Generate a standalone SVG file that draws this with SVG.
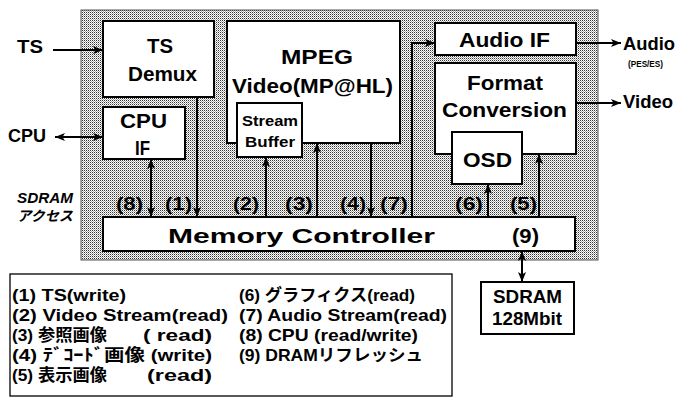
<svg xmlns="http://www.w3.org/2000/svg" width="677" height="407" viewBox="0 0 677 407">
<defs>
<pattern id="dots" width="2" height="2" patternUnits="userSpaceOnUse">
<rect width="2" height="2" fill="#fff"/>
<rect x="0" y="0" width="1" height="1" fill="#333"/>
<rect x="1" y="1" width="1" height="1" fill="#aaa"/>
</pattern>
<marker id="ah" markerUnits="userSpaceOnUse" markerWidth="11" markerHeight="8" refX="10" refY="4" orient="auto-start-reverse">
<path d="M0,0 L10,4 L0,8 L2.5,4 z" fill="#000"/>
</marker>
<style>
.box{fill:#fff;stroke:#000;stroke-width:2}
.ln{fill:none;stroke:#000;stroke-width:2}
.t{font-family:"Liberation Sans",Arial,sans-serif;font-weight:bold;fill:#000}
.b{font-size:21px}
.m{font-size:18px}
.s{font-size:15px}
.lg{font-family:"Liberation Sans","Noto Sans CJK JP",sans-serif;font-weight:bold;font-size:16.5px;fill:#000}
.it{font-family:"Liberation Sans","Noto Sans CJK JP",sans-serif;font-style:italic;font-weight:bold;font-size:14px;fill:#000}
</style>
</defs>

<rect id="chip" x="81" y="10" width="517" height="250" fill="url(#dots)" stroke="#555" stroke-width="1"/>

<g id="ts-demux">
<rect class="box" x="103" y="21" width="111" height="76"/>
<text class="t b" x="147" y="53" textLength="26" lengthAdjust="spacingAndGlyphs">TS</text>
<text class="t b" x="128" y="81" textLength="69" lengthAdjust="spacingAndGlyphs">Demux</text>
</g>

<g id="cpu-if">
<rect class="box" x="103" y="107" width="82" height="52"/>
<text class="t b" x="120" y="128" textLength="47" lengthAdjust="spacingAndGlyphs">CPU</text>
<text class="t b" x="135" y="155" textLength="15" lengthAdjust="spacingAndGlyphs">IF</text>
</g>

<g id="mpeg">
<rect class="box" x="227" y="21" width="173" height="122"/>
<text class="t b" x="281" y="64" textLength="72" lengthAdjust="spacingAndGlyphs">MPEG</text>
<text class="t b" x="232" y="93" textLength="161" lengthAdjust="spacingAndGlyphs">Video(MP@HL)</text>
</g>

<g id="stream-buffer">
<rect class="box" x="237" y="103" width="65" height="54"/>
<text class="t s" x="242" y="126" textLength="56" lengthAdjust="spacingAndGlyphs">Stream</text>
<text class="t s" x="245" y="147" textLength="50" lengthAdjust="spacingAndGlyphs">Buffer</text>
</g>

<g id="audio-if">
<rect class="box" x="435" y="23" width="141" height="32"/>
<text class="t b" x="459" y="47" textLength="91" lengthAdjust="spacingAndGlyphs">Audio IF</text>
</g>

<g id="format-conversion">
<rect class="box" x="435" y="63" width="141" height="91"/>
<text class="t b" x="467" y="90" textLength="76" lengthAdjust="spacingAndGlyphs">Format</text>
<text class="t b" x="442" y="117" textLength="125" lengthAdjust="spacingAndGlyphs">Conversion</text>
</g>

<g id="osd">
<rect class="box" x="452" y="132" width="70" height="52"/>
<text class="t b" x="463" y="167" textLength="49" lengthAdjust="spacingAndGlyphs">OSD</text>
</g>

<g id="memory-controller">
<rect class="box" x="103" y="217" width="472" height="34"/>
<text class="t b" x="168" y="243" textLength="267" lengthAdjust="spacingAndGlyphs">Memory Controller</text>
<text class="t b" x="512" y="243" textLength="27" lengthAdjust="spacingAndGlyphs">(9)</text>
</g>

<g id="sdram">
<rect class="box" x="481" y="282" width="93" height="52" stroke-width="1.5"/>
<text class="t m" x="493" y="303" textLength="69" lengthAdjust="spacingAndGlyphs">SDRAM</text>
<text class="t m" x="492" y="325" textLength="70" lengthAdjust="spacingAndGlyphs">128Mbit</text>
</g>

<g id="io-labels">
<text class="t m" x="17" y="53" textLength="26" lengthAdjust="spacingAndGlyphs">TS</text>
<text class="t m" x="8" y="142" textLength="38" lengthAdjust="spacingAndGlyphs">CPU</text>
<text class="t m" x="623" y="50" textLength="52" lengthAdjust="spacingAndGlyphs">Audio</text>
<text class="t" font-size="8.5" x="628" y="67" textLength="35" lengthAdjust="spacingAndGlyphs">(PES/ES)</text>
<text class="t m" x="623" y="108" textLength="50" lengthAdjust="spacingAndGlyphs">Video</text>
<text class="it" x="17" y="203" textLength="56" lengthAdjust="spacingAndGlyphs">SDRAM</text>
<text class="it" x="17" y="221" textLength="56" lengthAdjust="spacingAndGlyphs">アクセス</text>
</g>

<g id="connectors">
<line class="ln" x1="53" y1="50" x2="103" y2="50" marker-end="url(#ah)"/>
<line class="ln" x1="55" y1="137" x2="103" y2="137" marker-start="url(#ah)" marker-end="url(#ah)"/>
<line class="ln" x1="576" y1="43" x2="621" y2="43" marker-end="url(#ah)"/>
<line class="ln" x1="576" y1="103" x2="621" y2="103" marker-end="url(#ah)"/>
<line class="ln" x1="151" y1="159" x2="151" y2="217" marker-start="url(#ah)" marker-end="url(#ah)"/>
<line class="ln" x1="197" y1="97" x2="197" y2="217" marker-end="url(#ah)"/>
<line class="ln" x1="266" y1="217" x2="266" y2="157" marker-end="url(#ah)"/>
<line class="ln" x1="317" y1="217" x2="317" y2="143" marker-end="url(#ah)"/>
<line class="ln" x1="371" y1="143" x2="371" y2="217" marker-end="url(#ah)"/>
<polyline class="ln" points="412,217 412,43 435,43" marker-end="url(#ah)"/>
<line class="ln" x1="488" y1="217" x2="488" y2="184" marker-end="url(#ah)"/>
<line class="ln" x1="539" y1="217" x2="539" y2="154" marker-end="url(#ah)"/>
<line class="ln" x1="522" y1="251" x2="522" y2="282" marker-start="url(#ah)" marker-end="url(#ah)"/>
</g>

<g id="access-labels">
<text class="t m" x="116" y="210" textLength="27" lengthAdjust="spacingAndGlyphs">(8)</text>
<text class="t m" x="165" y="210" textLength="27" lengthAdjust="spacingAndGlyphs">(1)</text>
<text class="t m" x="233" y="210" textLength="26" lengthAdjust="spacingAndGlyphs">(2)</text>
<text class="t m" x="285" y="210" textLength="28" lengthAdjust="spacingAndGlyphs">(3)</text>
<text class="t m" x="340" y="210" textLength="26" lengthAdjust="spacingAndGlyphs">(4)</text>
<text class="t m" x="380" y="210" textLength="28" lengthAdjust="spacingAndGlyphs">(7)</text>
<text class="t m" x="455" y="210" textLength="28" lengthAdjust="spacingAndGlyphs">(6)</text>
<text class="t m" x="510" y="210" textLength="27" lengthAdjust="spacingAndGlyphs">(5)</text>
</g>

<g id="legend">
<rect x="10" y="274" width="442" height="122" fill="#fff" stroke="#000" stroke-width="1.3"/>
<text class="lg" x="12" y="301" textLength="114" lengthAdjust="spacingAndGlyphs">(1) TS(write)</text>
<text class="lg" x="12" y="321" textLength="216" lengthAdjust="spacingAndGlyphs">(2) Video Stream(read)</text>
<text class="lg" x="12" y="341" textLength="95" lengthAdjust="spacingAndGlyphs">(3) 参照画像</text>
<text class="lg" x="143" y="341" textLength="69" lengthAdjust="spacingAndGlyphs">( read)</text>
<text class="lg" x="12" y="361" textLength="200" lengthAdjust="spacingAndGlyphs">(4) ﾃﾞｺｰﾄﾞ画像 (write)</text>
<text class="lg" x="12" y="381" textLength="95" lengthAdjust="spacingAndGlyphs">(5) 表示画像</text>
<text class="lg" x="147" y="381" textLength="65" lengthAdjust="spacingAndGlyphs">(read)</text>
<text class="lg" x="239" y="301" textLength="176" lengthAdjust="spacingAndGlyphs">(6) グラフィクス(read)</text>
<text class="lg" x="239" y="321" textLength="208" lengthAdjust="spacingAndGlyphs">(7) Audio Stream(read)</text>
<text class="lg" x="239" y="341" textLength="179" lengthAdjust="spacingAndGlyphs">(8) CPU (read/write)</text>
<text class="lg" x="239" y="361" textLength="184" lengthAdjust="spacingAndGlyphs">(9) DRAMリフレッシュ</text>
</g>
</svg>
